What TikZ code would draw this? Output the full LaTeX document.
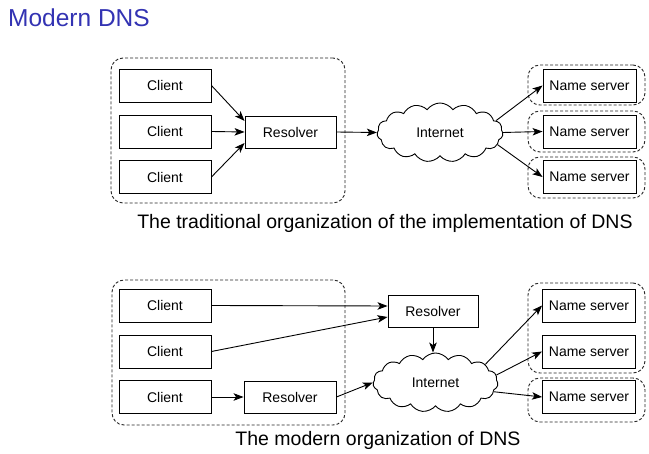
\documentclass[tikz,border=0pt]{standalone}
\usepackage{fontspec}
\setmainfont{Liberation Sans}
\usetikzlibrary{shapes.symbols,arrows.meta,fit}
\definecolor{titleblue}{RGB}{51,51,179}
\begin{document}
\begin{tikzpicture}[x=1pt,y=-1pt,
  box/.style={draw=black, line width=0.9pt, minimum width=92pt, minimum height=33pt, inner sep=0pt, font=\fontsize{14}{16}\selectfont},
  net/.style={cloud, draw=black, line width=0.9pt, cloud puffs=15, cloud puff arc=110, cloud ignores aspect, minimum width=126pt, minimum height=59pt, inner sep=0pt, font=\fontsize{14}{16}\selectfont},
  grp/.style={draw=black!85, line width=0.9pt, dash pattern=on 3pt off 2pt, rounded corners=12pt, inner sep=0pt},
  arr/.style={draw=black, line width=0.9pt, -{Stealth[length=10pt,width=7.5pt,inset=2.5pt]}},
  captext/.style={font=\fontsize{19.5}{22}\selectfont, anchor=base},
]
\useasboundingbox[fill=white] (0,0) rectangle (649,454);
\node[anchor=base west, text=titleblue, font=\fontsize{24.5}{28}\selectfont, inner sep=0pt] (title) at (8,27) {Modern DNS};

% ---------- top diagram ----------
\node[grp, fit={(111,58) (345,203)}] (g1) {};
\node[grp, fit={(528,65) (645,105)}] (n1) {};
\node[grp, fit={(528,111) (645,152)}] (n2) {};
\node[grp, fit={(528,157) (645,198)}] (n3) {};

\node[box] (c1) at (165,85.5) {Client};
\node[box] (c2) at (165,131.5) {Client};
\node[box] (c3) at (165,177) {Client};
\node[box, minimum width=91pt, minimum height=32pt] (res) at (290.5,132) {Resolver};
\node[net] (inet) at (440,132.5) {Internet};
\node[box, minimum width=93pt] (ns1) at (589.5,85.5) {Name server};
\node[box, minimum width=93pt] (ns2) at (589.5,131.5) {Name server};
\node[box, minimum width=93pt] (ns3) at (589.5,177) {Name server};

\draw[arr] (c1.east) -- ([yshift=11pt]res.west);
\draw[arr] (c2.east) -- (res.west);
\draw[arr] (c3.east) -- ([yshift=-11pt]res.west);
\draw[arr] (res.east) -- (inet.west);
\draw[arr] (inet.12) -- (ns1.west);
\draw[arr] (inet.east) -- (ns2.west);
\draw[arr] (inet.-12) -- (ns3.west);

\node[captext] (cap1) at (385,229) {The traditional organization of the implementation of DNS};

% ---------- bottom diagram ----------
\node[grp, fit={(112,280) (345,425)}] (g2) {};
\node[grp, fit={(528,283) (645,373)}] (n4) {};
\node[grp, fit={(528,378) (645,422)}] (n5) {};

\node[box] (d1) at (165,305.5) {Client};
\node[box] (d2) at (165,351.5) {Client};
\node[box] (d3) at (165,397) {Client};
\node[box, minimum height=32pt] (r2) at (290,397) {Resolver};
\node[box, minimum width=90pt, minimum height=32pt] (r1) at (433,311) {Resolver};
\node[net, minimum width=125pt] (inet2) at (435.5,382.5) {Internet};
\node[box, minimum width=93pt] (m1) at (589,305.5) {Name server};
\node[box, minimum width=93pt] (m2) at (589,351.5) {Name server};
\node[box, minimum width=93pt] (m3) at (589,397) {Name server};

\draw[arr] (d1.east) -- ([yshift=5pt]r1.west);
\draw[arr] (d2.east) -- ([yshift=-6pt]r1.west);
\draw[arr] (d3.east) -- (r2.west);
\draw[arr] (r2.east) -- (inet2.west);
\draw[arr] (r1.south) -- (r1.south |- inet2.north);
\draw[arr] (inet2.20) -- (m1.west);
\draw[arr] (inet2.7) -- (m2.west);
\draw[arr] (inet2.-9) -- (m3.west);

\node[captext] (cap2) at (378,446) {The modern organization of DNS};
\end{tikzpicture}
\end{document}
